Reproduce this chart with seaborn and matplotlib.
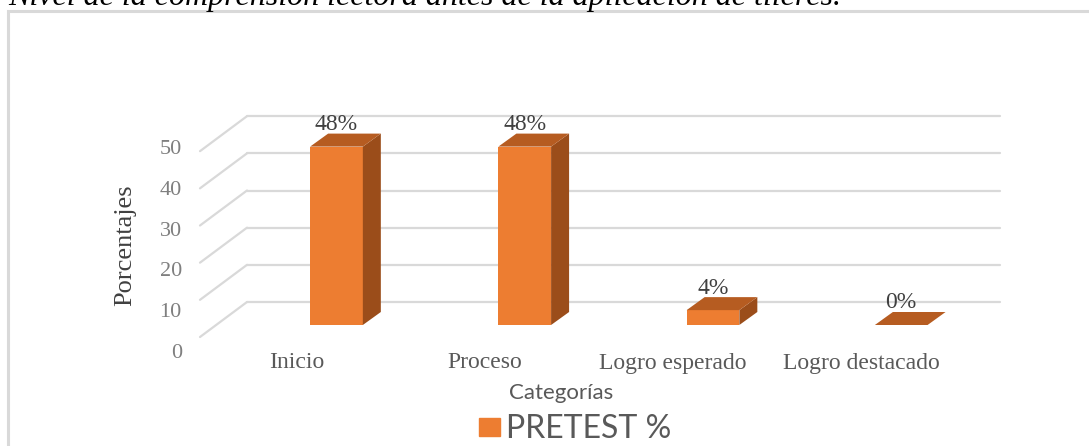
import numpy as np
import pandas as pd
import seaborn as sns
import matplotlib.pyplot as plt
from matplotlib.patches import Polygon, Rectangle, Patch
from matplotlib.transforms import ScaledTranslation

# datos
categorias = ["Inicio", "Proceso", "Logro esperado", "Logro destacado"]
pretest = [48, 48, 4, 0]
etiquetas = ["48%", "48%", "4%", "0%"]
yticks = [0, 10, 20, 30, 40, 50]
serie = "PRETEST %"
titulo = "Nivel de la comprensión lectora antes de la aplicación de tileres."

naranja = "#ED7D31"
techo = "#B65C21"
lado = "#9B4D1A"
rejilla = "#D9D9D9"
gris = "#595959"

sns.set_theme(style="white")
plt.rcParams['font.family'] = ['Liberation Serif', 'DejaVu Serif']

W, H, DPI = 1089, 446, 100
fig = plt.figure(figsize=(W/DPI, H/DPI), dpi=DPI)

def caja(x0, y0, x1, y1):	# pixeles (desde arriba-izquierda) -> fraccion de figura
	return [x0/W, 1 - y1/H, (x1 - x0)/W, (y1 - y0)/H]

ax = fig.add_axes(caja(216, 102, 969, 325))
df = pd.DataFrame({"Categorías": categorias, serie: pretest})
sns.barplot(data=df, x="Categorías", y=serie, color=naranja, saturation=1,
	width=0.28, ax=ax, zorder=3, linewidth=0)
ax.set_xlim(-0.64, 3.36)
ax.set_ylim(0, 60)
for s in ax.spines.values():
	s.set_visible(False)
ax.set_xticks([]); ax.set_yticks([])

def despl(dx, dy):	# desplazamiento en pixeles -> unidades de datos
	p0 = ax.transData.transform((0, 0))
	sx = ax.transData.transform((1, 0))[0] - p0[0]
	sy = ax.transData.transform((0, 1))[1] - p0[1]
	return dx/sx, dy/sy

xl, xr = ax.get_xlim()
dxw, dyw = despl(31, 23)	# pared del fondo
dxf, dyf = despl(-16, -12)	# borde frontal del piso
for v in yticks:
	ax.plot([xl + dxw, xr + dxw], [v + dyw, v + dyw], color=rejilla, lw=1.6, zorder=1, clip_on=False)
	ax.plot([xl + dxf, xl + dxw], [v + dyf, v + dyw], color=rejilla, lw=1.6, zorder=1, clip_on=False)

# caras 3D de las barras
dxb, dyb = despl(18, 13)
for p in ax.patches:
	x0, w, h = p.get_x(), p.get_width(), p.get_height()
	ax.add_patch(Polygon([(x0 + w, 0), (x0 + w + dxb, dyb), (x0 + w + dxb, h + dyb), (x0 + w, h)],
		closed=True, fc=lado, lw=0, zorder=3, clip_on=False))
	ax.add_patch(Polygon([(x0, h), (x0 + w, h), (x0 + w + dxb, h + dyb), (x0 + dxb, h + dyb)],
		closed=True, fc=techo, lw=0, zorder=4, clip_on=False))

for i, (v, t) in enumerate(zip(pretest, etiquetas)):
	ax.annotate(t, (i, v), xytext=(0, 22*0.72), textcoords="offset points",
		ha="center", va="center", fontsize=17, color="#404040")

mover = ax.transData + ScaledTranslation(-40/DPI, -38/DPI, fig.dpi_scale_trans)
for i, c in enumerate(categorias):
	ax.text(i, 0, c, transform=mover, ha="center", va="center", fontsize=17, color=gris)

ax.set_xlabel("Categorías", fontsize=16, color=gris, family=["Lato", "DejaVu Sans"])
ax.xaxis.set_label_coords((561 - 216)/753, (325 - 393)/223)
ax.xaxis.label.set_va("center")
ax.set_ylabel("Porcentajes", fontsize=19, color="#404040")
ax.yaxis.set_label_coords((125 - 216)/753, (325 - 245)/223)
ax.yaxis.label.set_va("center")

# eje de valores (perspectiva frontal)
ax2 = fig.add_axes(caja(186, 147.5, 190, 350.7))
ax2.set_ylim(0, 50)
ax2.set_yticks(yticks)
ax2.set_xticks([])
ax2.patch.set_visible(False)
for s in ax2.spines.values():
	s.set_visible(False)
ax2.tick_params(axis="y", length=0, pad=3, labelsize=16, labelcolor="#7F7F7F")

ax.legend(handles=[Patch(color=naranja)], labels=[serie], loc="center",
	bbox_to_anchor=(575/W, 1 - 429/H), bbox_transform=fig.transFigure, frameon=False,
	prop={"family": ["Lato", "DejaVu Sans"], "size": 23}, labelcolor=gris,
	handlelength=0.65, handleheight=0.5, handletextpad=0.2, borderpad=0)

fig.add_artist(Rectangle((8/W, -0.5), 2, 1 - 11/H + 0.5, transform=fig.transFigure,
	fill=False, ec=rejilla, lw=2.2))
fig.text(8/W, 1 - 5/H, titulo, fontsize=23, fontstyle="italic", va="baseline", color="black")

plt.savefig("out.png", dpi=DPI)
